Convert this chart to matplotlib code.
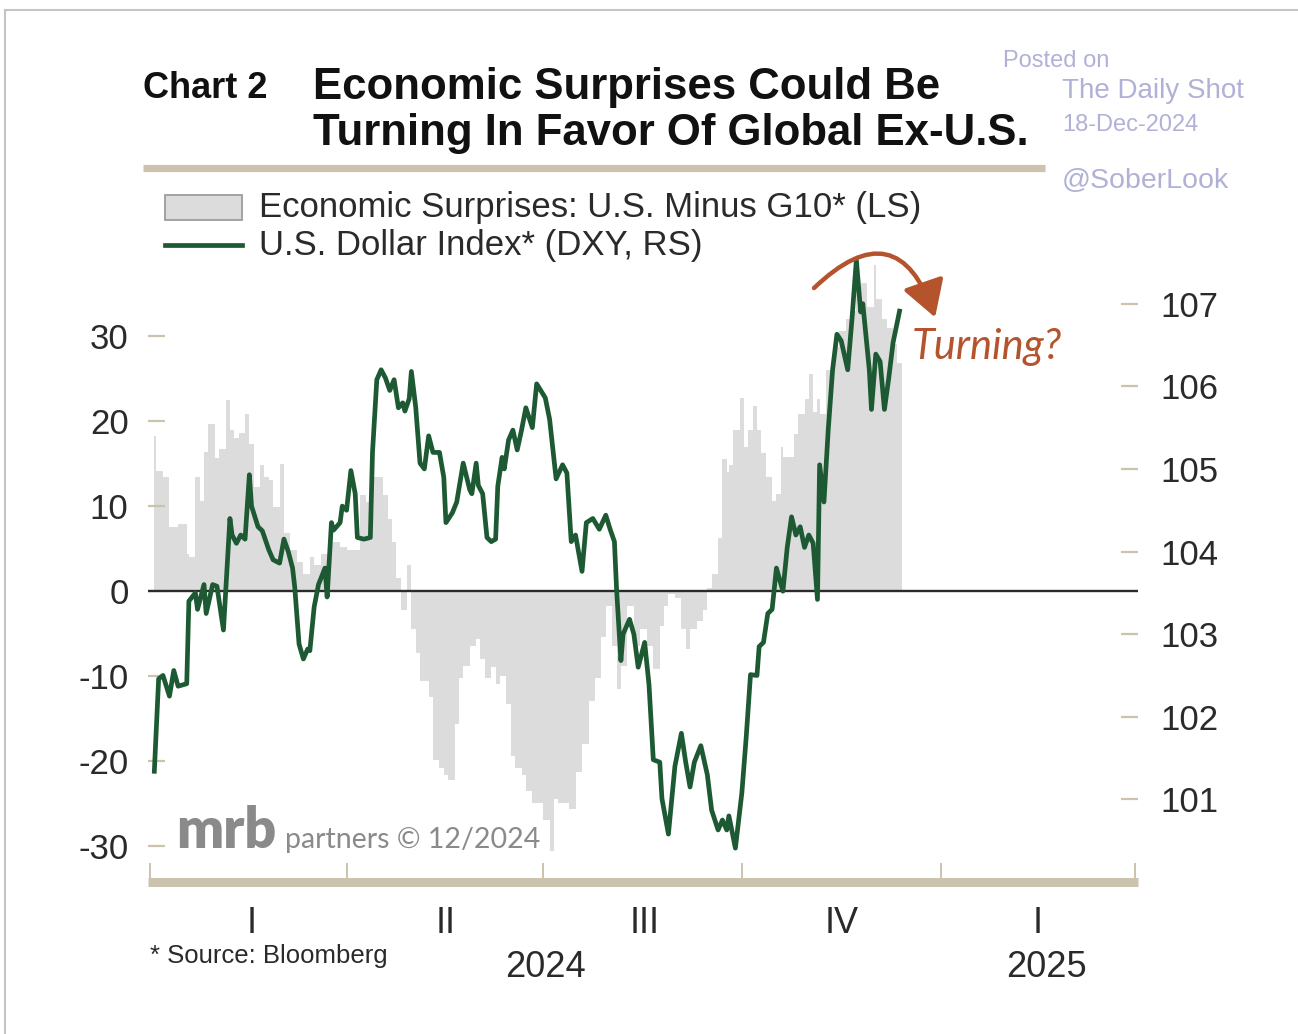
import matplotlib
matplotlib.use("Agg")
import matplotlib.pyplot as plt
import matplotlib.dates as mdates
import matplotlib.transforms as mtransforms
from matplotlib import font_manager
from matplotlib.lines import Line2D
from matplotlib.patches import FancyArrowPatch, Rectangle
import pandas as pd

# --- data ---------------------------------------------------------------
# Economic surprises, U.S. minus G10 (step series, left scale)
surp_dates = [
    "2024-01-03", "2024-01-04", "2024-01-07", "2024-01-10", "2024-01-14", "2024-01-18", "2024-01-19",
    "2024-01-22", "2024-01-24", "2024-01-26", "2024-01-28", "2024-01-31", "2024-02-02", "2024-02-05",
    "2024-02-07", "2024-02-09", "2024-02-11", "2024-02-14", "2024-02-16", "2024-02-18", "2024-02-21",
    "2024-02-23", "2024-02-25", "2024-02-27", "2024-03-01", "2024-03-03", "2024-03-06", "2024-03-09",
    "2024-03-12", "2024-03-15", "2024-03-17", "2024-03-20", "2024-03-25", "2024-03-29",
    "2024-04-01", "2024-04-07", "2024-04-10", "2024-04-13", "2024-04-18", "2024-04-20", "2024-04-22",
    "2024-04-24", "2024-04-26", "2024-04-29", "2024-05-01", "2024-05-03", "2024-05-05", "2024-05-09",
    "2024-05-11", "2024-05-14", "2024-05-16", "2024-05-18", "2024-05-21", "2024-05-23", "2024-05-25",
    "2024-05-28", "2024-05-31", "2024-06-02", "2024-06-04", "2024-06-07", "2024-06-09", "2024-06-11",
    "2024-06-14", "2024-06-16", "2024-06-18", "2024-06-21", "2024-06-23", "2024-06-26",
    "2024-06-28", "2024-07-01", "2024-07-04", "2024-07-06", "2024-07-08", "2024-07-13", "2024-07-16",
    "2024-07-19", "2024-07-22", "2024-07-25", "2024-07-28", "2024-07-30", "2024-08-02", "2024-08-04",
    "2024-08-06", "2024-08-09", "2024-08-12", "2024-08-15", "2024-08-18", "2024-08-21", "2024-08-24",
    "2024-08-26", "2024-08-28", "2024-08-31", "2024-09-03", "2024-09-05", "2024-09-07", "2024-09-10",
    "2024-09-13", "2024-09-15", "2024-09-17", "2024-09-20", "2024-09-22", "2024-09-24",
    "2024-09-25", "2024-09-27", "2024-09-30", "2024-10-02", "2024-10-04", "2024-10-06", "2024-10-08",
    "2024-10-10", "2024-10-12", "2024-10-15", "2024-10-17", "2024-10-19", "2024-10-20", "2024-10-25",
    "2024-10-27", "2024-10-30", "2024-11-01", "2024-11-03", "2024-11-05", "2024-11-06", "2024-11-09",
    "2024-11-13", "2024-11-15", "2024-11-18", "2024-11-20", "2024-11-23", "2024-11-25", "2024-11-28",
    "2024-12-01", "2024-12-02", "2024-12-05", "2024-12-07", "2024-12-10", "2024-12-12",
]
surp_end = "2024-12-14"
surp_vals = [
    18.2, 14.1, 13.4, 7.5, 7.9, 4.3, 4.0, 13.4, 10.6, 16.3,
    19.6, 15.7, 16.7, 22.5, 19.0, 18.0, 18.6, 20.8, 17.3, 12.2,
    14.8, 13.4, 13.0, 9.9, 14.9, 6.8, 4.8, 3.4, 2.0, 4.0,
    3.0, 4.3, 5.8, 5.2,
    4.8, 11.3, 10.5, 13.4, 11.3, 8.5, 5.8, 1.5, -2.2, 3.0,
    -4.5, -7.3, -10.6, -12.5, -19.9, -20.8, -21.7, -22.2, -15.6, -10.2,
    -8.8, -6.5, -5.6, -8.0, -10.2, -9.0, -11.0, -10.0, -13.3, -19.4,
    -20.8, -21.7, -23.5, -25.0,
    -25.0, -27.0, -30.6, -24.5, -25.0, -25.6, -21.3, -18.0, -12.9, -10.2,
    -5.4, -1.8, -6.5, -11.5, -8.8, -1.8, -6.5, -4.5, -6.5, -9.2,
    -4.1, -1.8, -0.3, -0.8, -4.5, -6.8, -4.5, -3.5, -2.2, 0.3,
    2.0, 6.2, 15.5, 14.0,
    14.8, 18.9, 22.7, 17.0, 19.0, 21.8, 19.0, 16.2, 13.4, 10.6,
    11.4, 17.0, 15.8, 18.5, 20.8, 22.6, 25.5, 21.1, 22.6, 20.8,
    26.0, 28.7, 30.6, 32.0, 33.0, 35.7, 36.2, 33.4, 38.4, 34.3,
    32.0, 31.0, 29.1, 26.8,
]

# U.S. Dollar Index (right scale)
dxy_dates = [
    "2024-01-03", "2024-01-05", "2024-01-07", "2024-01-10", "2024-01-12", "2024-01-14", "2024-01-18",
    "2024-01-19", "2024-01-22", "2024-01-23", "2024-01-26", "2024-01-27", "2024-01-30", "2024-02-01",
    "2024-02-02", "2024-02-04", "2024-02-07", "2024-02-08", "2024-02-10", "2024-02-12", "2024-02-14",
    "2024-02-16", "2024-02-17", "2024-02-20", "2024-02-22", "2024-02-25", "2024-02-27", "2024-03-01",
    "2024-03-03", "2024-03-05", "2024-03-07", "2024-03-08", "2024-03-10", "2024-03-12", "2024-03-14",
    "2024-03-15", "2024-03-17", "2024-03-19", "2024-03-22", "2024-03-23", "2024-03-25", "2024-03-26",
    "2024-03-29", "2024-03-30",
    "2024-04-01", "2024-04-03", "2024-04-05", "2024-04-06", "2024-04-09", "2024-04-12", "2024-04-13",
    "2024-04-15", "2024-04-17", "2024-04-19", "2024-04-21", "2024-04-23", "2024-04-25", "2024-04-27",
    "2024-04-28", "2024-04-30", "2024-05-01", "2024-05-03", "2024-05-05", "2024-05-07", "2024-05-09",
    "2024-05-11", "2024-05-14", "2024-05-16", "2024-05-17", "2024-05-20", "2024-05-22", "2024-05-25",
    "2024-05-28", "2024-05-29", "2024-05-31", "2024-06-01", "2024-06-03", "2024-06-05", "2024-06-07",
    "2024-06-09", "2024-06-10", "2024-06-12", "2024-06-13", "2024-06-15", "2024-06-17", "2024-06-19",
    "2024-06-21", "2024-06-23", "2024-06-26", "2024-06-28",
    "2024-07-02", "2024-07-04", "2024-07-07", "2024-07-10", "2024-07-12", "2024-07-14", "2024-07-16",
    "2024-07-19", "2024-07-21", "2024-07-24", "2024-07-27", "2024-07-30", "2024-08-01", "2024-08-03",
    "2024-08-04", "2024-08-06", "2024-08-07", "2024-08-10", "2024-08-12", "2024-08-14", "2024-08-17",
    "2024-08-19", "2024-08-21", "2024-08-24", "2024-08-25", "2024-08-28", "2024-08-31", "2024-09-03",
    "2024-09-05", "2024-09-07", "2024-09-09", "2024-09-12", "2024-09-15", "2024-09-17", "2024-09-20",
    "2024-09-22", "2024-09-24", "2024-09-25", "2024-09-28",
    "2024-10-01", "2024-10-03", "2024-10-05", "2024-10-08", "2024-10-09", "2024-10-11", "2024-10-13",
    "2024-10-15", "2024-10-17", "2024-10-20", "2024-10-22", "2024-10-24", "2024-10-26", "2024-10-28",
    "2024-10-30", "2024-11-01", "2024-11-03", "2024-11-05", "2024-11-06", "2024-11-08", "2024-11-10",
    "2024-11-12", "2024-11-14", "2024-11-16", "2024-11-19", "2024-11-21", "2024-11-23", "2024-11-25",
    "2024-11-26", "2024-11-29", "2024-11-30", "2024-12-02", "2024-12-04", "2024-12-06", "2024-12-08",
    "2024-12-10", "2024-12-13",
]
dxy_vals = [
    101.34, 102.46, 102.50, 102.25, 102.56, 102.37, 102.40, 103.40, 103.50, 103.30,
    103.60, 103.25, 103.60, 103.58, 103.40, 103.05, 104.40, 104.20, 104.10, 104.20,
    104.15, 104.93, 104.55, 104.30, 104.25, 104.02, 103.90, 103.86, 104.15, 104.00,
    103.80, 103.57, 102.88, 102.70, 102.82, 102.80, 103.33, 103.60, 103.80, 103.45,
    104.35, 104.26, 104.35, 104.55,
    104.50, 104.98, 104.70, 104.17, 104.15, 104.17, 105.20, 106.08, 106.20, 106.10,
    105.95, 106.08, 105.74, 105.80, 105.70, 105.85, 106.18, 105.75, 105.07, 105.00,
    105.40, 105.20, 105.20, 104.90, 104.35, 104.47, 104.60, 105.07, 104.75, 104.70,
    105.07, 104.80, 104.70, 104.17, 104.12, 104.15, 104.79, 105.14, 105.00, 105.35,
    105.47, 105.23, 105.47, 105.74, 105.50, 106.03,
    105.86, 105.60, 104.88, 105.05, 104.95, 104.12, 104.20, 103.76, 104.35, 104.40,
    104.27, 104.44, 104.27, 104.12, 103.54, 102.68, 103.00, 103.18, 103.00, 102.60,
    102.90, 102.39, 101.48, 101.45, 101.01, 100.58, 101.40, 101.80, 101.45, 101.15,
    101.45, 101.65, 101.30, 100.87, 100.63, 100.75, 100.63, 100.80, 100.41,
    101.08, 101.75, 102.51, 102.50, 102.85, 102.90, 103.25, 103.30, 103.80, 103.52,
    104.05, 104.42, 104.20, 104.30, 104.05, 104.20, 104.10, 103.42, 105.05, 104.60,
    105.48, 106.20, 106.63, 106.55, 106.20, 106.82, 107.53, 106.90, 107.00, 106.20,
    105.72, 106.39, 106.30, 105.72, 106.10, 106.53, 106.91,
]

quarter_starts = ["2024-01-01", "2024-04-01", "2024-07-01", "2024-10-01", "2025-01-01", "2025-04-01"]
quarter_mids = ["2024-02-17", "2024-05-17", "2024-08-17", "2024-11-16", "2025-02-15"]
quarter_labels = ["I", "II", "III", "IV", "I"]
years = ["2024", "2025"]
year_mids = ["2024-07-02", "2025-02-19"]
left_ticks = [-30, -20, -10, 0, 10, 20, 30]
right_ticks = [101, 102, 103, 104, 105, 106, 107]

# --- style --------------------------------------------------------------
GREEN = "#1d5a33"
GREY_FILL = "#dcdcdc"
TAN = "#cbc3ad"
TEXT = "#2a2a2a"
RUST = "#b5532c"
WATERMARK = "#b1b1d8"

installed = {f.name for f in font_manager.fontManager.ttflist}
NARROW = "Liberation Sans Narrow" if "Liberation Sans Narrow" in installed else "Liberation Sans"
plt.rcParams["font.family"] = ["Liberation Sans", "DejaVu Sans"]

W, H = 1298, 1034
fig = plt.figure(figsize=(W / 100, H / 100), dpi=100)
fig.patch.set_facecolor("white")


def fx(px):
    return px / W


def fy(py):
    return 1 - py / H


ax = fig.add_axes([fx(148), fy(882), fx(1138) - fx(148), fy(250) - fy(882)])
ax2 = ax.twinx()

surp_x = pd.to_datetime(surp_dates + [surp_end])
surp_y = surp_vals + [surp_vals[-1]]
ax.fill_between(surp_x, surp_y, 0, step="post", color=GREY_FILL, lw=0, zorder=1)
ax.axhline(0, color="#2b2b2b", lw=1.7, zorder=2)

ax2.plot(pd.to_datetime(dxy_dates), dxy_vals, color=GREEN, lw=3.4,
         solid_joinstyle="round", zorder=3)

# x axis: quarters, tan base bar
x0 = mdates.date2num(pd.Timestamp("2024-01-01")) - 0.93
x1 = mdates.date2num(pd.Timestamp("2025-04-01")) + 1.39
ax.set_xlim(x0, x1)
ax.set_ylim(-34.24, 40.12)
ax2.set_ylim(100.0, 107.65)

ax.set_xticks(mdates.date2num(pd.to_datetime(quarter_starts)))
ax.set_xticklabels([])
ax.set_xticks(mdates.date2num(pd.to_datetime(quarter_mids)), minor=True)
ax.set_xticklabels(quarter_labels, minor=True, fontsize=26, family=NARROW, color=TEXT)
ax.tick_params(axis="x", which="major", direction="in", length=14, width=1.4, color=TAN)
ax.tick_params(axis="x", which="minor", length=0, pad=17)

ax.set_yticks(left_ticks)
ax.set_yticklabels([str(v) for v in left_ticks], fontsize=25, color=TEXT)
ax.tick_params(axis="y", direction="in", length=12, width=1.6, color=TAN, pad=14)
ax2.set_yticks(right_ticks)
ax2.set_yticklabels([str(v) for v in right_ticks], fontsize=25, color=TEXT)
ax2.tick_params(axis="y", direction="in", length=12, width=1.6, color=TAN, pad=16)

for a in (ax, ax2):
    for side in ("top", "left", "right"):
        a.spines[side].set_visible(False)
ax2.spines["bottom"].set_visible(False)
ax.spines["bottom"].set_color(TAN)
ax.spines["bottom"].set_linewidth(6.5)
ax.spines["bottom"].set_capstyle("butt")

year_tf = mtransforms.blended_transform_factory(ax.transData, ax.transAxes)
for yr, mid in zip(years, year_mids):
    ax.text(mdates.date2num(pd.Timestamp(mid)), -0.1345, yr, transform=year_tf,
            ha="center", va="center", fontsize=26, family=NARROW, color=TEXT)

# --- frame, title block ---------------------------------------------------
fig.add_artist(Line2D([fx(5), 1], [fy(10), fy(10)], color="#c4c4c4", lw=1.5))
fig.add_artist(Line2D([fx(5), fx(5)], [fy(10), 0], color="#c4c4c4", lw=1.5))

fig.text(fx(143), fy(88), "Chart 2", fontsize=26, weight="bold", family=NARROW,
         color="#111111", va="center")
fig.text(fx(313), fy(87), "Economic Surprises Could Be", fontsize=31.5, weight="bold",
         family=NARROW, color="#111111", va="center")
fig.text(fx(313), fy(134), "Turning In Favor Of Global Ex-U.S.", fontsize=31.5, weight="bold",
         family=NARROW, color="#111111", va="center")
fig.add_artist(Line2D([fx(143), fx(1045)], [fy(168), fy(168)], color=TAN, lw=5.2,
                      solid_capstyle="butt"))

fig.text(fx(1003), fy(61), "Posted on", fontsize=17, family=NARROW, color=WATERMARK, va="center")
fig.text(fx(1062), fy(91), "The Daily Shot", fontsize=20, color=WATERMARK, va="center")
fig.text(fx(1062), fy(125), "18-Dec-2024", fontsize=17, family=NARROW, color=WATERMARK, va="center")
fig.text(fx(1062), fy(181), "@SoberLook", fontsize=20.5, color=WATERMARK, va="center")

# legend
fig.add_artist(Rectangle((fx(165), fy(220)), fx(242) - fx(165), (220 - 195) / H,
                         transform=fig.transFigure, facecolor=GREY_FILL,
                         edgecolor="#9c9c9c", lw=1.3))
fig.add_artist(Line2D([fx(165), fx(242)], [fy(245), fy(245)], color=GREEN, lw=3.4))
fig.text(fx(259), fy(208), "Economic Surprises: U.S. Minus G10* (LS)", fontsize=25,
         color=TEXT, va="center")
fig.text(fx(259), fy(245), "U.S. Dollar Index* (DXY, RS)", fontsize=25, color=TEXT, va="center")

# annotation
arrow = FancyArrowPatch((fx(812), fy(290)), (fx(936), fy(320)), transform=fig.transFigure,
                        connectionstyle="arc3,rad=-0.8",
                        arrowstyle="-|>,head_length=1.1,head_width=0.65",
                        mutation_scale=20, lw=3.2, color=RUST)
fig.add_artist(arrow)
fig.text(fx(912), fy(347), "Turning?", fontsize=30, style="italic", family="Lato",
         color=RUST, va="center")

# branding and source
fig.text(fx(176), fy(848), "mrb", fontsize=40, weight="heavy", family="Lato",
         color="#8a8a8a", va="baseline")
fig.text(fx(285), fy(848), "partners \u00a9 12/2024", fontsize=20.5, family="Lato",
         color="#8a8a8a", va="baseline")
fig.text(fx(150), fy(956), "* Source: Bloomberg", fontsize=18.5, family=NARROW,
         color=TEXT, va="center")

fig.savefig("out.png", dpi=100)
